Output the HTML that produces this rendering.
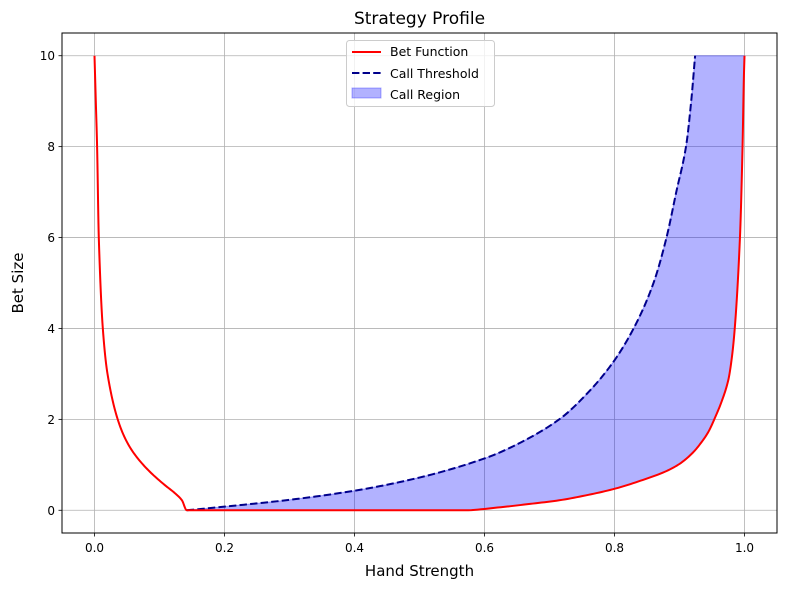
<!DOCTYPE html>
<html><head><meta charset="utf-8"><style>
body{margin:0;background:#fff;font-family:"Liberation Sans","DejaVu Sans",sans-serif;}
svg text{font-family:"DejaVu Sans","Liberation Sans",sans-serif;}
</style></head><body>
<svg id="chart" width="790" height="590" xmlns="http://www.w3.org/2000/svg"></svg>
<script>
const betX = [0,0.002,0.004,0.0066,0.0128,0.02,0.0357,0.05,0.065,0.085,0.106,0.125,0.1345,0.142,0.3,0.57,0.62,0.67,0.715,0.76,0.802,0.84,0.878,0.9,0.92,0.935,0.945,0.955,0.965,0.975,0.98,0.985,0.993,0.997,0.999,1.0];
const betY = [10,9,8,6,4,3.0,2,1.5,1.17,0.85,0.58,0.36,0.22,0,0,0,0.06,0.14,0.22,0.34,0.48,0.65,0.85,1.02,1.26,1.52,1.74,2.05,2.4,2.86,3.3,4,6,8,9.5,10];
const thrX = [0.142,0.2,0.3,0.4,0.5,0.6,0.65,0.715,0.76,0.8,0.833,0.86,0.88,0.895,0.91,0.918,0.924];
const thrY = [0,0.08,0.23,0.43,0.72,1.14,1.45,2,2.6,3.3,4.1,5,6,7,8,9,10];
const xTicks = [0.0,0.2,0.4,0.6,0.8,1.0];
const yTicks = [0,2,4,6,8,10];

const L=62,R=777,T=33,B=533;
const xMin=-0.05,xMax=1.05,yMin=-0.5,yMax=10.5;
const sx=v=>L+(v-xMin)/(xMax-xMin)*(R-L);
const sy=v=>B-(v-yMin)/(yMax-yMin)*(B-T);
const svg=document.getElementById('chart');
const NS='http://www.w3.org/2000/svg';
function mk(tag,attrs,parent){const e=document.createElementNS(NS,tag);for(const k in attrs)e.setAttribute(k,attrs[k]);(parent||svg).appendChild(e);return e;}

// monotone cubic sampling in pixel space
function smooth(xs,ys){
  const px=xs.map(sx),py=ys.map(sy),n=px.length;
  const d=[],m=[];
  for(let i=0;i<n-1;i++){const h=px[i+1]-px[i];d.push(h>0?(py[i+1]-py[i])/h:0);}
  m[0]=d[0];m[n-1]=d[n-2];
  for(let i=1;i<n-1;i++){m[i]=(d[i-1]*d[i]<=0)?0:2/(1/d[i-1]+1/d[i]);}
  const out=[[px[0],py[0]]];
  for(let i=0;i<n-1;i++){
    const h=px[i+1]-px[i];
    if(h<=0.5){out.push([px[i+1],py[i+1]]);continue;}
    for(let k=1;k<=10;k++){const t=k/10,t2=t*t,t3=t2*t;
      const y=(2*t3-3*t2+1)*py[i]+(t3-2*t2+t)*h*m[i]+(-2*t3+3*t2)*py[i+1]+(t3-t2)*h*m[i+1];
      out.push([px[i]+t*h,y]);}
  }
  return out;
}

// grid
xTicks.forEach(t=>{
  const g=mk('line',{x1:sx(t),x2:sx(t),y1:T,y2:B,stroke:'#b0b0b0','stroke-width':0.8});
  
  
  mk('line',{x1:sx(t),x2:sx(t),y1:B,y2:B+3.5,stroke:'#000','stroke-width':0.8});
  const tx=mk('text',{x:sx(t),y:B+19,'text-anchor':'middle','font-size':12,fill:'#000'});
  tx.textContent=t.toFixed(1);
  
  
});
yTicks.forEach(t=>{
  const g=mk('line',{x1:L,x2:R,y1:sy(t),y2:sy(t),stroke:'#b0b0b0','stroke-width':0.8});
  
  
  mk('line',{x1:L-3.5,x2:L,y1:sy(t),y2:sy(t),stroke:'#000','stroke-width':0.8});
  const tx=mk('text',{x:L-7,y:sy(t)+4.5,'text-anchor':'end','font-size':12,fill:'#000'});
  tx.textContent=String(t);
  
  
});

const thrPts=smooth(thrX,thrY);
const betPts=smooth(betX,betY);
const top10=sy(10);
// fill region
let pts=thrPts.map(p=>p[0]+','+Math.max(p[1],top10));
pts.push(sx(1.0)+','+top10);
const startX=sx(0.142);
for(let i=betPts.length-1;i>=0;i--){if(betPts[i][0]>=startX-0.01)pts.push(betPts[i][0]+','+betPts[i][1]);}
const fill=mk('polygon',{points:pts.join(' '),fill:'#0000ff','fill-opacity':0.3,stroke:'#0000ff','stroke-opacity':0.3,'stroke-width':1});



const thr=mk('polyline',{points:thrPts.map(p=>p.join(',')).join(' '),fill:'none',stroke:'#00008b','stroke-width':2,'stroke-dasharray':'7.4,3.2'});


const bet=mk('polyline',{points:betPts.map(p=>p.join(',')).join(' '),fill:'none',stroke:'#ff0000','stroke-width':2,'stroke-linejoin':'round'});



const frame=mk('rect',{x:L,y:T,width:R-L,height:B-T,fill:'none',stroke:'#000','stroke-width':1});



const title=mk('text',{x:(L+R)/2,y:24,'text-anchor':'middle','font-size':17,fill:'#000'});
title.textContent='Strategy Profile';


const xl=mk('text',{x:(L+R)/2,y:576,'text-anchor':'middle','font-size':15,fill:'#000'});
xl.textContent='Hand Strength';


const yl=mk('text',{x:23,y:(T+B)/2,'text-anchor':'middle','font-size':15,fill:'#000',transform:'rotate(-90 23 '+((T+B)/2)+')'});
yl.textContent='Bet Size';



// legend
const lg=mk('g',{});


mk('rect',{x:346.5,y:40.5,width:148,height:66,rx:3,fill:'#fff','fill-opacity':0.8,stroke:'#ccc','stroke-width':1},lg);
mk('line',{x1:352,x2:381,y1:52,y2:52,stroke:'#ff0000','stroke-width':2},lg);
mk('line',{x1:352,x2:381,y1:73,y2:73,stroke:'#00008b','stroke-width':2,'stroke-dasharray':'7.4,3.2'},lg);
mk('rect',{x:352,y:88,width:29,height:10,fill:'#0000ff','fill-opacity':0.3,stroke:'#0000ff','stroke-opacity':0.3},lg);
[['Bet Function',56],['Call Threshold',78],['Call Region',99]].forEach(([s,y])=>{
  const t=mk('text',{x:390,y:y,'font-size':12.5,fill:'#000'},lg);t.textContent=s;
  
  
});
</script>
</body></html>
